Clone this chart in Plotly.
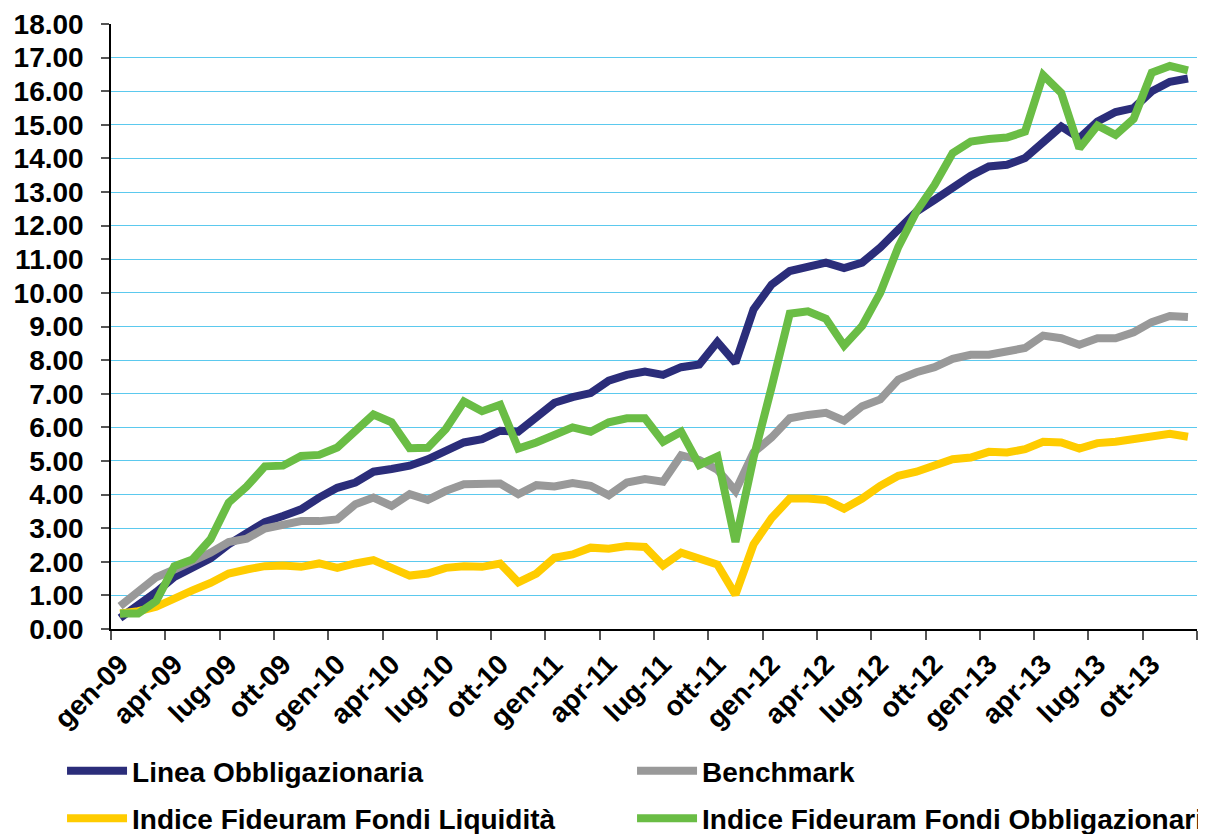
import plotly.graph_objects as go

months = ["gen", "feb", "mar", "apr", "mag", "giu", "lug", "ago", "set", "ott", "nov", "dic"]
years = ["09", "10", "11", "12", "13"]
categories = [f"{m}-{y}" for y in years for m in months]

linea = [0.33, 0.70, 1.10, 1.55, 1.82, 2.10, 2.52, 2.82, 3.18, 3.36, 3.56, 3.91,
         4.20, 4.36, 4.68, 4.76, 4.86, 5.05, 5.30, 5.55, 5.65, 5.90, 5.87, 6.30,
         6.73, 6.90, 7.02, 7.39, 7.56, 7.66, 7.56, 7.79, 7.87, 8.54, 7.92, 9.51,
         10.25, 10.65, 10.80, 10.90, 10.74, 10.90, 11.35, 11.92, 12.42, 12.77, 13.16, 13.49,
         13.76, 13.81, 14.01, 14.50, 14.95, 14.60, 15.10, 15.38, 15.50, 16.00, 16.28, 16.38]
benchmark = [0.68, 1.12, 1.54, 1.77, 1.99, 2.27, 2.59, 2.69, 2.99, 3.08, 3.21, 3.21,
             3.26, 3.71, 3.91, 3.66, 4.01, 3.84, 4.11, 4.31, 4.32, 4.33, 4.01, 4.28,
             4.24, 4.34, 4.26, 3.98, 4.36, 4.46, 4.38, 5.17, 5.03, 4.74, 4.11, 5.25,
             5.70, 6.27, 6.37, 6.43, 6.20, 6.63, 6.83, 7.42, 7.64, 7.79, 8.04, 8.16,
             8.16, 8.26, 8.36, 8.73, 8.65, 8.46, 8.65, 8.65, 8.83, 9.13, 9.31, 9.28]
liquidita = [0.46, 0.53, 0.66, 0.93, 1.15, 1.37, 1.65, 1.77, 1.87, 1.89, 1.85, 1.95,
             1.82, 1.95, 2.05, 1.82, 1.59, 1.65, 1.82, 1.87, 1.85, 1.95, 1.39, 1.65,
             2.12, 2.22, 2.42, 2.39, 2.47, 2.44, 1.89, 2.27, 2.07, 1.92, 1.02, 2.52,
             3.30, 3.88, 3.88, 3.84, 3.58, 3.88, 4.26, 4.56, 4.68, 4.87, 5.05, 5.10,
             5.27, 5.25, 5.35, 5.57, 5.55, 5.37, 5.53, 5.57, 5.65, 5.79, 5.81, 5.72]
obbligazionari = [0.46, 0.46, 0.83, 1.87, 2.07, 2.67, 3.76, 4.24, 4.84, 4.86, 5.15, 5.18,
                  5.40, 5.90, 6.38, 6.15, 5.38, 5.39, 5.95, 6.77, 6.48, 6.67, 5.37, 5.55,
                  5.80, 6.00, 5.87, 6.15, 6.27, 6.27, 5.57, 5.87, 4.88, 5.13, 2.59, 5.10,
                  7.20, 9.38, 9.45, 9.23, 8.43, 9.02, 10.00, 11.37, 12.42, 13.21, 14.16, 14.50,
                  14.58, 14.62, 14.80, 16.48, 15.95, 14.30, 14.98, 14.70, 15.18, 16.55, 16.75, 16.62]

# (name, values, colour, legend column)
series = [
    ("Linea Obbligazionaria", linea, "#2B2D7A", "legend"),
    ("Benchmark", benchmark, "#999999", "legend2"),
    ("Indice Fideuram Fondi Liquidità", liquidita, "#FFCC00", "legend"),
    ("Indice Fideuram Fondi Obbligazionari", obbligazionari, "#6ABD45", "legend2"),
]

x_idx = list(range(len(categories)))
# tick marks at category boundaries every 3 months, labels shifted to category centre
tick_vals = [i - 0.5 for i in range(0, len(categories) + 1, 3)]
tick_text = [categories[i] if i < len(categories) else "" for i in range(0, len(categories) + 1, 3)]

font_family = "Liberation Sans, Arial, sans-serif"
big_font = dict(family=font_family, size=28, color="black", weight="bold")

fig = go.Figure()
for k, (name, vals, color, leg) in enumerate(series):
    fig.add_trace(go.Scatter(
        x=x_idx, y=vals, name=name, mode="lines",
        line=dict(color=color, width=8),
        legend=leg, legendgroup=f"g{k}",
        hoverinfo="skip",
    ))

legend_common = dict(
    orientation="v",
    xref="container", yref="container",
    yanchor="top", xanchor="left",
    itemwidth=60,
    tracegroupgap=8,
    font=big_font,
    bgcolor="rgba(0,0,0,0)",
    traceorder="grouped",
)

fig.update_layout(
    width=1198, height=826,
    margin=dict(l=103, r=9, t=16, b=205, autoexpand=False),
    paper_bgcolor="white", plot_bgcolor="white",
    font=big_font,
    showlegend=True,
    legend=dict(legend_common, x=0.0451, y=0.1065),
    legend2=dict(legend_common, x=0.5209, y=0.1065),
    xaxis=dict(
        range=[-0.5, len(categories) - 0.5],
        tickmode="array", tickvals=tick_vals, ticktext=tick_text,
        ticklabelshift=9,
        ticklabelstandoff=-3,
        tickangle=-45,
        ticks="outside", ticklen=9, tickcolor="#555555", tickwidth=1.5,
        showline=True, linecolor="black", linewidth=1.5,
        showgrid=False, zeroline=False, automargin=False,
        tickfont=big_font,
    ),
    yaxis=dict(
        range=[0, 18], dtick=1, tick0=0,
        tickformat=".2f",
        ticks="outside", ticklen=8, tickcolor="#555555", tickwidth=1.5,
        ticklabelstandoff=12,
        showline=True, linecolor="black", linewidth=1.5,
        showgrid=True, gridcolor="#5BC9EE", gridwidth=1.2,
        zeroline=False, automargin=False,
        tickfont=big_font,
    ),
)

fig.write_html("out.html")
